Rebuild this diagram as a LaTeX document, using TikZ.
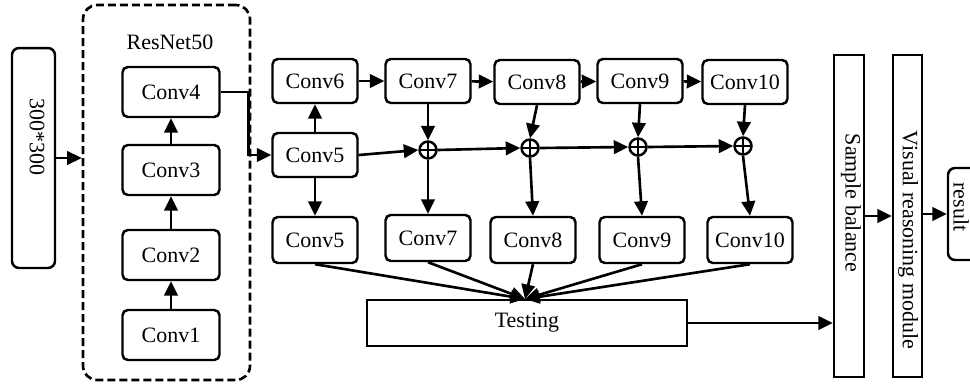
\documentclass[tikz,border=0pt]{standalone}
\usepackage{fontspec}
\setmainfont{Liberation Serif}
\usetikzlibrary{arrows.meta,calc}

\tikzset{
  conv/.style={draw, line width=1.4pt, rounded corners=3pt, minimum width=1.7cm,
    minimum height=0.88cm, inner sep=1pt, font=\fontsize{12.5}{15}\selectfont},
  resconv/.style={conv, minimum width=1.94cm, minimum height=1cm},
  tallbox/.style={draw, line width=1.4pt, minimum width=0.6cm, minimum height=6.44cm, inner sep=0pt},
  vtext/.style={rotate=-90, font=\fontsize{12.5}{15}\selectfont, inner sep=0pt},
  addop/.style={draw, circle, line width=1.4pt, minimum size=0.34cm, inner sep=0pt,
    path picture={\draw[line width=1.3pt] (path picture bounding box.north) -- (path picture bounding box.south)
      (path picture bounding box.west) -- (path picture bounding box.east);}},
  arr/.style={-{Triangle[length=2.9mm,width=2.7mm]}, line width=1.5pt},
}

\begin{document}
\begin{tikzpicture}[x=0.02cm, y=-0.02cm]
        \clip (0,0) rectangle (970,385);

        % Input image box
        \node[draw, line width=1.4pt, rounded corners=4pt, minimum width=0.86cm, minimum height=4.4cm] (inbox) at (33.5,158) {};
        \node[vtext] (intext) at (37,137) {300*300};

        % ResNet50 backbone
        \node[draw, dashed, dash pattern=on 0.16cm off 0.08cm, line width=1.5pt, rounded corners=8pt,
          minimum width=3.34cm, minimum height=7.5cm] (resnet) at (166.5,192.5) {};
        \node[font=\fontsize{12.5}{15}\selectfont] (reslabel) at (170,42) {ResNet50};
        \node[resconv] (c1) at (171,335) {Conv1};
        \node[resconv] (c2) at (171,255) {Conv2};
        \node[resconv] (c3) at (171,170) {Conv3};
        \node[resconv] (c4) at (171,92) {Conv4};

        \draw[arr] (inbox.east) -- (inbox.east -| resnet.west);
        \draw[arr] (c1) -- (c2);
        \draw[arr] (c2) -- (c3);
        \draw[arr] (c3) -- (c4);

        % Extra layers, top row
        \node[conv] (c5) at (315,155) {Conv5};
        \node[conv] (c6) at (315,81) {Conv6};
        \node[conv] (c7) at (428,81) {Conv7};
        \node[conv] (c8) at (537,82) {Conv8};
        \node[conv] (c9) at (640,81) {Conv9};
        \node[conv] (c10) at (745,82) {Conv10};

        \draw[arr] (c4.east) -- ++(28,0) |- (c5.west);
        \draw[arr] (c5) -- (c6);
        \draw[arr] (c6) -- (c7);
        \draw[arr] (c7) -- (c8);
        \draw[arr] (c8) -- (c9);
        \draw[arr] (c9) -- (c10);

        % Fusion points
        \node[addop] (o7) at (428,150) {};
        \node[addop] (o8) at (530,148) {};
        \node[addop] (o9) at (638,147) {};
        \node[addop] (o10) at (743,146) {};

        \draw[arr] (c5.east) -- (o7.west);
        \draw[arr] (o7.east) -- (o8.west);
        \draw[arr] (o8.east) -- (o9.west);
        \draw[arr] (o9.east) -- (o10.west);
        \draw[arr] (c7.south) -- (o7.north);
        \draw[arr] (c8.south) -- (o8.north);
        \draw[arr] (c9.south) -- (o9.north);
        \draw[arr] (c10.south) -- (o10.north);

        % Feature maps, bottom row
        \node[conv, minimum height=0.92cm] (b5) at (315,240) {Conv5};
        \node[conv, minimum height=0.92cm] (b7) at (428,238) {Conv7};
        \node[conv, minimum height=0.92cm] (b8) at (533,240) {Conv8};
        \node[conv, minimum height=0.92cm] (b9) at (642,240) {Conv9};
        \node[conv, minimum height=0.92cm] (b10) at (750,240) {Conv10};

        \draw[arr] (c5.south) -- (b5.north);
        \draw[arr] (o7.south) -- (b7.north);
        \draw[arr] (o8.south) -- (b8.north);
        \draw[arr] (o9.south) -- (b9.north);
        \draw[arr] (o10.south) -- (b10.north);

        % Testing
        \node[draw, line width=1.4pt, minimum width=6.4cm, minimum height=0.92cm,
          font=\fontsize{12.5}{15}\selectfont] (test) at (527,323) {Testing};
        \coordinate (tin) at (525,299);
        \foreach \b in {b5,b7,b8,b9,b10}
          \draw[arr] (\b.south) -- (tin);

        % Sample balance, reasoning and result
        \node[tallbox] (sb) at (849,216) {};
        \node[vtext] (sbtext) at (851,203) {Sample balance};
        \node[tallbox, minimum width=0.58cm] (vr) at (907.5,216) {};
        \node[vtext] (vrtext) at (908,240) {Visual reasoning module};
        \node[draw, line width=1.4pt, rounded corners=4pt, minimum width=0.88cm, minimum height=1.84cm] (res) at (970,214) {};
        \node[vtext] (restext) at (961,207) {result};

        \draw[arr] (test.east) -- (test.east -| sb.west);
        \draw[arr] (sb.east) -- (vr.west);
        \draw[arr] (vr.east |- res.west) -- (res.west);
    \end{tikzpicture}
\end{document}
